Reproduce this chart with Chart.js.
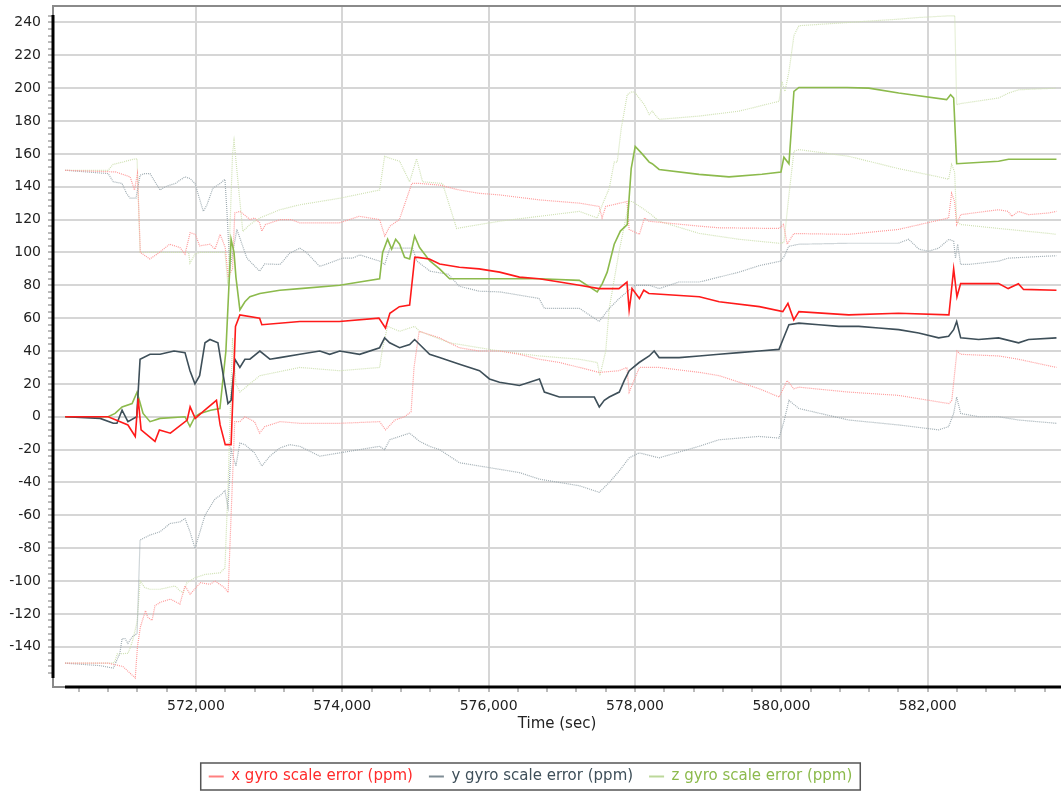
<!DOCTYPE html>
<html>
<head>
<meta charset="utf-8">
<script src="https://cdn.jsdelivr.net/npm/chart.js@4.4.0/dist/chart.umd.min.js"></script>
<style>
  html, body { margin: 0; padding: 0; background: #fff; }
  #chart { display: block; }
</style>
</head>
<body>
<canvas id="chart" width="1061" height="793"></canvas>
<script>
// series: [time (sec), value (ppm)]
const xMean = [[570213,0],[570800,0],[571070,-5],[571170,-12],[571210,11],[571250,-8],[571440,-15],[571500,-8],[571650,-10],[571880,-2],[571920,6],[571990,-1],[572120,4],[572280,10],[572330,-5],[572400,-17],[572480,-17],[572540,55],[572600,62],[572870,60],[572900,56],[573420,58],[573960,58],[574500,60],[574590,54],[574650,63],[574780,67],[574920,68],[574990,97],[575030,97],[575190,96],[575330,93],[575600,91],[575870,90],[576150,88],[576420,85],[576690,84],[576970,82],[577240,80],[577510,78],[577780,78],[577890,82],[577920,65],[577960,78],[578060,72],[578120,77],[578190,75],[578880,73],[579150,70],[579700,67],[580020,64],[580090,69],[580170,59],[580240,64],[580920,62],[581600,63],[582290,62],[582355,90],[582400,73],[582450,81],[582970,81],[583100,78],[583240,81],[583310,77.5],[583760,77]];
const xUpper = [[570213,150],[570900,149],[571100,146],[571160,138],[571200,148],[571240,100],[571370,96],[571500,100],[571640,105],[571780,103],[571850,99],[571920,112],[571990,111],[572050,104],[572190,105],[572260,102],[572330,111],[572400,103],[572440,85],[572500,90],[572530,124],[572600,125],[572740,120],[572800,121],[572870,118],[572900,113],[572950,117],[573150,120],[573300,120],[573420,118],[573960,118],[574230,122],[574510,120],[574580,110],[574650,116],[574780,120],[574950,142],[575060,142],[575330,141],[575600,138],[575870,136],[576150,135],[576690,132],[577240,130],[577510,128],[577550,121],[577600,128],[577890,131],[577920,114],[578060,111],[578130,121],[578190,119],[578880,116],[579150,115],[579970,114.6],[580030,117],[580080,105],[580170,111.5],[580920,111],[581600,114],[582286,121],[582327,136],[582368,131],[582396,117],[582451,123],[582970,126],[583100,125],[583150,122],[583240,125],[583380,123],[583650,124],[583760,125]];
const xLower = [[570213,-150],[570800,-150],[571000,-152],[571170,-159],[571200,-140],[571240,-128],[571310,-118],[571340,-122],[571400,-124],[571440,-115],[571510,-113],[571650,-111],[571780,-114],[571850,-103],[571920,-108],[572060,-101],[572190,-102],[572260,-100],[572390,-104],[572440,-107],[572480,-60],[572530,-3],[572600,-3],[572670,0],[572800,-3],[572870,-10],[572940,-6],[573150,-3],[573420,-4],[573960,-4],[574510,-3],[574590,-8],[574720,-2],[574850,0],[574940,3],[574980,30],[575050,52],[575190,50],[575330,48],[575600,42],[575870,40],[576150,40],[576420,38],[576690,35],[576970,33],[577240,30],[577510,27],[577780,28],[577890,30],[577920,15],[578060,30],[578330,30],[578880,27],[579150,25],[579700,17],[579970,12],[580080,22],[580170,17],[580240,18],[580920,15],[581600,13],[582290,8],[582330,10],[582400,40],[582450,38],[582970,37],[583240,35],[583760,30]];

const yMean = [[570213,0],[570690,-1],[570870,-4],[570920,-4],[570990,4],[571070,-3],[571190,0],[571236,35],[571372,38],[571509,38],[571700,40],[571850,39],[571918,28],[571986,20],[572050,25],[572123,45],[572191,47],[572300,45],[572355,30],[572437,8],[572480,10],[572532,35],[572600,30],[572669,35],[572737,35],[572873,40],[573010,35],[573146,36],[573419,38],[573692,40],[573828,38],[573965,40],[574237,38],[574510,42],[574578,48],[574647,45],[574783,42],[574920,44],[574988,47],[575193,38],[575329,36],[575602,32],[575875,28],[576011,23],[576148,21],[576421,19],[576694,23],[576761,15],[576966,12],[577239,12],[577444,12],[577512,6],[577580,10],[577648,12],[577785,15],[577853,22],[577921,28],[578057,33],[578194,37],[578262,40],[578330,36],[578603,36],[578876,37],[579149,38],[579422,39],[579695,40],[579968,41],[580022,47],[580104,56],[580240,57],[580513,56],[580786,55],[581059,55],[581331,54],[581604,53],[581877,51],[582150,48],[582286,49],[582355,53],[582396,58],[582451,48],[582696,47],[582969,48],[583242,45],[583378,47],[583760,48]];
const yUpper = [[570213,150],[570800,148],[570870,143],[570990,142],[571050,136],[571100,133],[571180,133],[571236,147],[571300,148],[571372,148],[571440,143],[571509,138],[571580,140],[571645,141],[571720,142],[571780,144],[571850,146],[571918,145],[571986,142],[572100,125],[572150,129],[572230,139],[572330,142],[572396,144.5],[572423,125],[572464,90],[572559,114],[572696,96.5],[572870,88.6],[572940,93],[573150,92.7],[573280,99.5],[573420,102.6],[573510,100],[573690,91.5],[573790,93],[574000,96.5],[574140,96.5],[574240,98.5],[574510,94.7],[574580,92.7],[574650,102.6],[574960,102.6],[575020,94.7],[575200,88.6],[575450,86.7],[575600,79.4],[575870,76.4],[576150,76],[576420,74],[576690,72],[576760,66],[577240,66],[577510,58],[577650,66],[577785,72],[577890,76],[578000,80],[578200,80],[578330,78],[578600,82],[578880,82],[579150,85],[579420,88],[579700,92],[579990,94.7],[580040,97.6],[580100,103.7],[580240,105],[580920,105.6],[581600,105.6],[581740,108],[581880,102],[582010,100.7],[582150,102.6],[582290,108],[582355,106.8],[582380,96.5],[582410,105],[582450,92.7],[582560,92.7],[582970,94.7],[583100,96.5],[583290,97],[583760,98]];
const yLower = [[570213,-150],[570690,-151.5],[570870,-153],[570900,-150],[570960,-144],[570990,-135],[571030,-135],[571070,-138],[571127,-134],[571195,-132],[571236,-75],[571372,-72],[571509,-70],[571645,-65],[571780,-64],[571850,-62],[571918,-70],[571986,-80],[572055,-70],[572123,-60],[572191,-55],[572260,-50],[572330,-48],[572396,-45],[572437,-55],[572480,-20],[572546,-30],[572600,-16],[572669,-17],[572800,-22],[572900,-30],[573010,-24],[573146,-19],[573280,-17],[573419,-18],[573692,-24],[573965,-22],[574237,-20],[574510,-18],[574578,-20],[574647,-14],[574783,-12],[574920,-10],[575056,-15],[575193,-18],[575329,-20],[575602,-28],[575875,-30],[576148,-32],[576421,-34],[576694,-38],[576966,-40],[577239,-42],[577512,-46],[577648,-40],[577785,-33],[577921,-25],[578057,-22],[578330,-25],[578876,-18],[579149,-14],[579695,-12],[579968,-13],[580035,-3],[580104,10],[580240,5],[580922,-2],[581604,-5],[582150,-8],[582286,-6],[582355,2],[582396,12],[582451,2],[582696,0],[582969,0],[583242,-2],[583760,-4]];

const zMean = [[570213,0],[570800,0],[570895,2],[570990,6],[571127,8],[571195,15],[571277,2],[571372,-3],[571509,-1],[571850,0],[571918,-6],[571986,0],[572055,2],[572200,4],[572327,5],[572409,40],[572480,108],[572520,100],[572546,85],[572600,65],[572669,70],[572737,73],[572873,75],[573146,77],[573419,78],[573965,80],[574237,82],[574510,84],[574551,100],[574619,108],[574674,102],[574729,108],[574783,105],[574851,97],[574920,96],[574988,110],[575056,103],[575193,95],[575329,90],[575466,84],[575875,84],[576694,84],[577239,83],[577484,76],[577553,81],[577620,88],[577716,105],[577800,113],[577894,117],[577948,151],[578003,164.5],[578098,160],[578194,155],[578235,154],[578330,150.5],[578876,147.5],[579285,146],[579735,147.6],[579995,149],[580035,158],[580104,154],[580172,198],[580240,200.4],[580900,200.4],[581195,200],[581604,197],[582259,193],[582313,196],[582355,194],[582396,154],[582969,155.5],[583105,156.7],[583760,156.7]];
const zUpper = [[570213,150],[570800,150],[570868,153.6],[571000,155],[571140,156.7],[571195,157],[571236,100],[571900,100],[571918,93.5],[571986,99],[572055,100],[572327,100],[572396,100],[572437,80],[572500,160],[572520,168],[572640,112.8],[572737,117],[572873,121],[573146,126],[573419,129],[573965,133],[574510,138],[574578,158.5],[574674,157],[574783,155.5],[574920,143],[575015,157],[575097,143],[575370,142],[575562,114.6],[575875,117],[576148,119],[576694,122],[577239,125],[577484,121],[577553,129],[577648,139],[577716,155],[577757,155],[577812,175.5],[577894,196],[577962,198],[578003,197],[578126,190],[578194,184],[578235,186],[578289,183],[578330,181],[578876,183],[579422,186],[579968,192],[580008,204],[580049,198],[580104,210],[580172,232],[580240,238],[580922,240],[581604,242],[581877,243],[582286,244],[582370,244],[582396,190],[582451,190.6],[582969,194],[583105,197],[583242,199],[583760,200]];
const zLower = [[570213,-150],[570868,-150],[570895,-148.6],[570922,-144.4],[571072,-144],[571130,-137],[571195,-125],[571236,-100],[571300,-104],[571372,-105],[571509,-105],[571714,-103],[571782,-106],[571823,-107],[571877,-101],[571986,-98],[572123,-96],[572330,-95],[572396,-92],[572440,-40],[572500,48],[572546,20],[572600,15],[572873,25],[573419,30],[573965,28],[574510,30],[574551,42],[574619,55],[574783,52],[574988,55],[575056,52],[575466,45],[576148,40],[576694,37],[577239,35],[577484,33],[577520,25],[577600,40],[577648,66],[577780,100],[577921,131],[577962,131],[578098,127],[578194,124],[578330,119],[578876,111.6],[579422,108],[579968,105.6],[580035,106],[580104,135],[580172,161.6],[580240,162.6],[580922,158.5],[581604,151],[582150,146],[582286,144.5],[582327,153.6],[582368,149],[582396,119],[582451,117],[582969,114.6],[583650,111.6],[583760,111]];

const seriesNames = ['x gyro scale error (ppm)', 'y gyro scale error (ppm)', 'z gyro scale error (ppm)'];
const meanColors = ['#ff1a1a', '#3e4f59', '#8cba4c'];
const boundColors = ['#ff9a9a', '#a0adb3', '#cfe1b3'];
const swatchColors = ['#ff8080', '#7f8d95', '#bcd89a'];
const textColors = ['#ff2a2a', '#3e4f59', '#8cba4c'];

Chart.defaults.font.family = "'DejaVu Sans', sans-serif";
Chart.defaults.color = '#222';

const toPoints = (arr) => arr.map(([x, y]) => ({ x, y }));

function meanSet(i, pts) {
  return {
    label: seriesNames[i],
    data: toPoints(pts),
    borderColor: meanColors[i],
    borderWidth: 1.6,
    pointRadius: 0,
    tension: 0,
  };
}

function boundSet(i, pts) {
  return {
    label: seriesNames[i] + ' bound',
    data: toPoints(pts),
    borderColor: boundColors[i],
    borderWidth: 1.2,
    borderDash: [1, 1],
    pointRadius: 0,
    tension: 0,
  };
}

// gray frame, black axis lines and the box round the legend
const framePlugin = {
  id: 'frame',
  afterDraw(chart) {
    const { ctx, chartArea: a } = chart;
    ctx.save();
    ctx.strokeStyle = '#8a8a8a';
    ctx.lineWidth = 2;
    ctx.beginPath();
    ctx.moveTo(a.left + 12, a.bottom);
    ctx.lineTo(a.left, a.bottom);
    ctx.lineTo(a.left, a.top);
    ctx.lineTo(a.right, a.top);
    ctx.stroke();

    ctx.strokeStyle = '#000';
    ctx.lineWidth = 3;
    ctx.beginPath();
    ctx.moveTo(a.left, a.top + 9);
    ctx.lineTo(a.left, a.bottom - 9);
    ctx.moveTo(a.left + 12, a.bottom);
    ctx.lineTo(a.right, a.bottom);
    ctx.stroke();

    const boxes = chart.legend.legendHitBoxes;
    if (boxes.length) {
      const left = Math.min(...boxes.map((b) => b.left)) - 8;
      const right = Math.max(...boxes.map((b) => b.left + b.width)) + 8;
      const top = Math.min(...boxes.map((b) => b.top)) - 6;
      const bottom = Math.max(...boxes.map((b) => b.top + b.height)) + 6;
      ctx.strokeStyle = '#555';
      ctx.lineWidth = 1.5;
      ctx.strokeRect(left, top, right - left, bottom - top);
    }
    ctx.restore();
  },
};

new Chart('chart', {
  type: 'line',
  data: {
    datasets: [
      meanSet(0, xMean), meanSet(1, yMean), meanSet(2, zMean),
      boundSet(0, xUpper), boundSet(0, xLower),
      boundSet(1, yUpper), boundSet(1, yLower),
      boundSet(2, zUpper), boundSet(2, zLower),
    ],
  },
  options: {
    responsive: false,
    animation: false,
    layout: { padding: { top: 6, right: 0, left: 0, bottom: -1 } },
    scales: {
      x: {
        type: 'linear',
        min: 570046,
        max: 583822,
        afterFit: (scale) => {
          scale.height = 66;
          scale.paddingLeft = 0;
          scale.paddingRight = 0;
        },
        border: { display: false },
        grid: {
          color: (c) => (c.tick && c.tick.value % 2000 === 0 ? '#d6d6d6' : 'rgba(0,0,0,0)'),
          lineWidth: 2,
          tickLength: 5,
          tickWidth: 1,
          tickColor: (c) => (c.tick && c.tick.value > 570200 ? '#777' : 'rgba(0,0,0,0)'),
        },
        ticks: {
          stepSize: 400,
          autoSkip: false,
          maxRotation: 0,
          includeBounds: false,
          padding: 6,
          font: { size: 14 },
          color: '#222',
          callback: (v) => (v % 2000 === 0 ? v.toLocaleString('en-US') : ''),
        },
        title: {
          display: true,
          text: 'Time (sec)',
          font: { size: 15 },
          color: '#222',
          padding: { top: 0, bottom: 20 },
        },
      },
      y: {
        min: -164.5,
        max: 250,
        afterFit: (scale) => {
          scale.width = 53;
          scale.paddingTop = 0;
          scale.paddingBottom = 0;
        },
        border: { display: false },
        grid: {
          color: (c) => (c.tick && c.tick.value % 20 === 0 && c.tick.value >= -140 ? '#d6d6d6' : 'rgba(0,0,0,0)'),
          lineWidth: 2,
          tickLength: 5,
          tickWidth: 1,
          tickColor: (c) => (c.tick && c.tick.value >= -158 && c.tick.value <= 245 ? '#777' : 'rgba(0,0,0,0)'),
        },
        ticks: {
          stepSize: 4,
          autoSkip: false,
          includeBounds: false,
          padding: 7,
          font: { size: 14 },
          color: '#222',
          callback: (v) => (v % 20 === 0 && v >= -140 && v <= 240 ? String(v) : ''),
        },
      },
    },
    plugins: {
      tooltip: { enabled: false },
      legend: {
        position: 'bottom',
        labels: {
          boxWidth: 15,
          boxHeight: 2,
          padding: 16,
          font: { size: 15 },
          generateLabels: () => seriesNames.map((name, i) => ({
            text: name,
            fillStyle: swatchColors[i],
            strokeStyle: swatchColors[i],
            lineWidth: 0,
            fontColor: textColors[i],
            hidden: false,
            datasetIndex: i,
          })),
        },
      },
    },
  },
  plugins: [framePlugin],
});
</script>
</body>
</html>
